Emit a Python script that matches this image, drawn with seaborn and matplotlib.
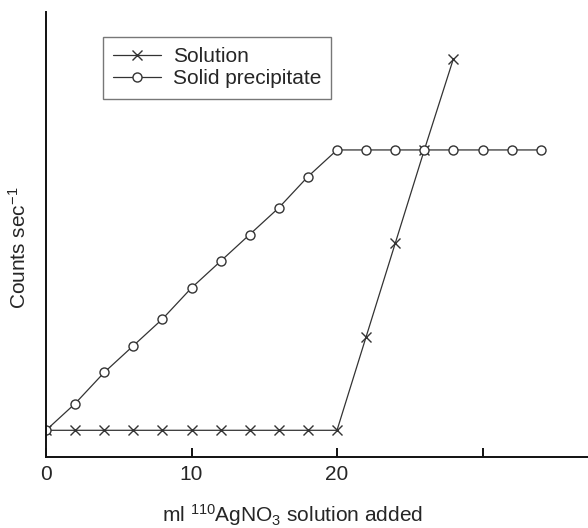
import pandas as pd
import matplotlib.pyplot as plt
import seaborn as sns

# --- DATOS ---
ml_solution = [0, 2, 4, 6, 8, 10, 12, 14, 16, 18, 20, 22, 24, 26, 28]
counts_solution = [6, 6, 6, 6, 6, 6, 6, 6, 6, 6, 6, 27, 48, 69, 89.5]

ml_solid = [0, 2, 4, 6, 8, 10, 12, 14, 16, 18, 20, 22, 24, 26, 28, 30, 32, 34]
counts_solid = [6, 12, 19, 25, 31, 38, 44, 50, 56, 63, 69, 69, 69, 69, 69, 69, 69, 69]

x_ticks = [0, 10, 20, 30]
x_tick_labels = ["0", "10", "20", ""]

sns.set_style("ticks")
plt.rcParams["font.family"] = ["Liberation Sans", "DejaVu Sans"]
plt.rcParams["mathtext.fontset"] = "custom"
plt.rcParams["mathtext.rm"] = "Liberation Sans"
plt.rcParams["mathtext.it"] = "Liberation Sans"

df_sol = pd.DataFrame({"ml": ml_solution, "counts": counts_solution})
df_pre = pd.DataFrame({"ml": ml_solid, "counts": counts_solid})

fig = plt.figure(figsize=(5.88, 5.28), dpi=100)
ax = fig.add_axes([46 / 588, 1 - 457 / 528, 542 / 588, 445 / 528])

linea = "#333333"
sns.lineplot(data=df_sol, x="ml", y="counts", ax=ax, color=linea, lw=0.9,
             marker="x", markersize=7.5, mew=1.0, mec=linea, label="Solution")
sns.lineplot(data=df_pre, x="ml", y="counts", ax=ax, color=linea, lw=0.9,
             marker="o", markersize=6.5, mew=1.0, mec=linea, mfc="white",
             label="Solid precipitate")

ax.set_xlim(0, 37.25)
ax.set_ylim(0, 100)
ax.set_xticks(x_ticks)
ax.set_xticklabels(x_tick_labels, fontsize=15)
ax.set_yticks([])
ax.tick_params(axis="x", direction="in", length=6.5, width=1.4, pad=6, color="#111111")

for lado in ["top", "right"]:
    ax.spines[lado].set_visible(False)
for lado in ["left", "bottom"]:
    ax.spines[lado].set_linewidth(1.4)
    ax.spines[lado].set_color("#111111")

ax.set_xlabel(r"ml $^{110}$AgNO$_{3}$ solution added", fontsize=15)
ax.xaxis.label.set_va("center")
ax.xaxis.set_label_coords(0.454, -0.13)
ax.set_ylabel(r"Counts sec$^{-1}$", fontsize=15)
ax.yaxis.label.set_va("center")
ax.yaxis.set_label_coords(-0.05, 0.47)

leg = ax.legend(loc="upper left", bbox_to_anchor=(0.105, 0.944), borderaxespad=0,
                fontsize=15, frameon=True, fancybox=False, handlelength=2.3,
                labelspacing=0.15, handletextpad=0.55, borderpad=0.5)
leg.get_frame().set_edgecolor("#555555")
leg.get_frame().set_linewidth(1.0)

fig.savefig("out.png", dpi=100)
